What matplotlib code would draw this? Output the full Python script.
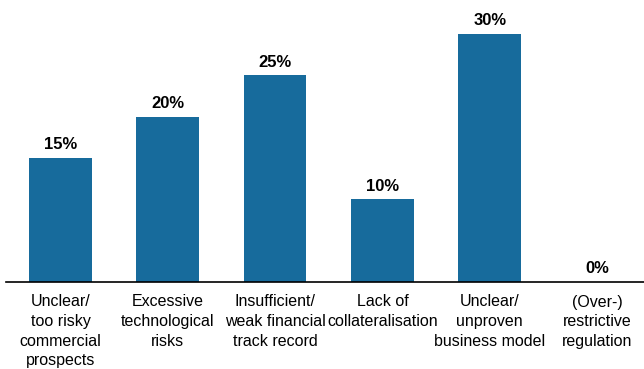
import matplotlib
matplotlib.use("Agg")
import matplotlib.pyplot as plt

plt.rcParams['font.family'] = ['Liberation Sans Narrow', 'Liberation Sans', 'DejaVu Sans']

# data
categories = [
    "Unclear/\ntoo risky\ncommercial\nprospects",
    "Excessive\ntechnological\nrisks",
    "Insufficient/\nweak financial\ntrack record",
    "Lack of\ncollateralisation",
    "Unclear/\nunproven\nbusiness model",
    "(Over-)\nrestrictive\nregulation",
]
values = [15, 20, 25, 10, 30, 0]
value_labels = ["15%", "20%", "25%", "10%", "30%", "0%"]

bar_color = '#176b9c'

fig = plt.figure(figsize=(6.44, 3.69), dpi=100)
ax = fig.add_axes([6 / 644, 87 / 369, 638 / 644, 282 / 369])

x = list(range(len(values)))
ax.bar(x, values, width=0.585, color=bar_color, zorder=2)

for xi, v, lab in zip(x, values, value_labels):
    ax.annotate(lab, (xi, v), xytext=(0, 4), textcoords='offset points',
                ha='center', va='bottom', fontsize=12, fontweight='bold')

ax.set_xlim(-0.508, 5.438)
ax.set_ylim(0, 34.1)

ax.set_xticks(x)
ax.set_xticklabels(categories, fontsize=11.5, linespacing=1.38)
ax.tick_params(axis='x', length=0, pad=9)
ax.set_yticks([])

for side in ['top', 'right', 'left']:
    ax.spines[side].set_visible(False)
ax.spines['bottom'].set_linewidth(1.2)
ax.spines['bottom'].set_color('black')

fig.savefig('out.png', dpi=100)
